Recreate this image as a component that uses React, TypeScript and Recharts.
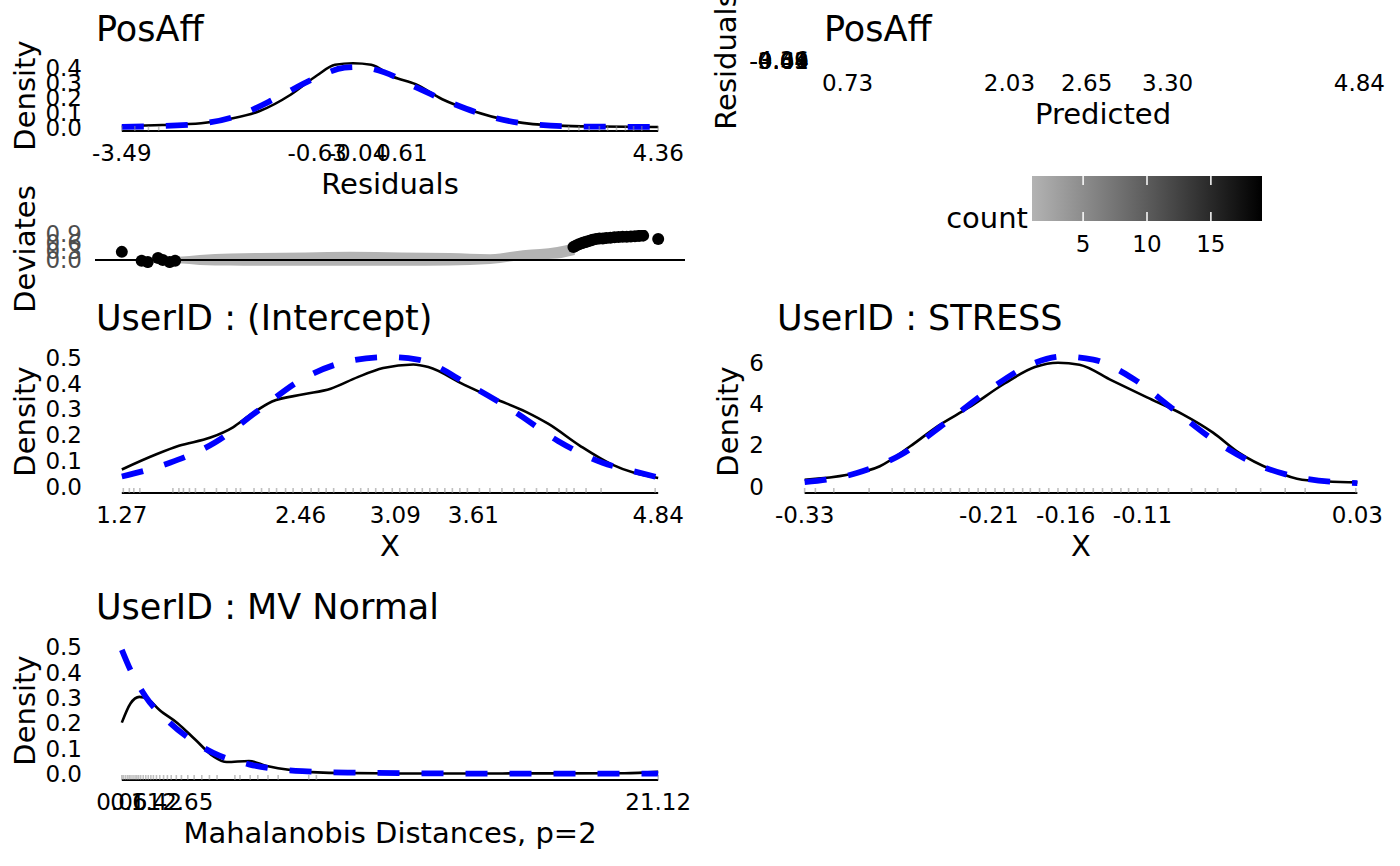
import React from 'react';
import { ComposedChart, Line, Area, Scatter, XAxis, YAxis, ReferenceLine, ReferenceArea } from 'recharts';

const W = 1400;
const H = 866;
const FONT = '"DejaVu Sans", Verdana, sans-serif';

// ---------- tick labels ----------
const resTicks = [-3.49, -0.63, -0.04, 0.61, 4.36];
const predTicks = [0.73, 2.03, 2.65, 3.3, 4.84];
const intTicks = [1.27, 2.46, 3.09, 3.61, 4.84];
const stressTicks = [-0.33, -0.21, -0.16, -0.11, 0.03];
const mvTicks = [0.06, 0.61, 1.42, 2.65, 21.12];
const densTicksA = [0, 0.1, 0.2, 0.3, 0.4];
const devTicks = [0, 0.3, 0.6, 0.9];
const densTicks5 = [0, 0.1, 0.2, 0.3, 0.4, 0.5];
const stressDensTicks = [0, 2, 4, 6];
const countTicks = [5, 10, 15];

// ---------- PosAff residuals density ----------
const resDensX = [-3.49, -2.9, -2.33, -1.9, -1.48, -1.02, -0.63, -0.37, -0.105, 0.16, 0.48, 0.81, 1.2, 1.66, 2.25, 2.9, 3.5, 4.36];
const resDensY = [0.011, 0.018, 0.03, 0.06, 0.11, 0.22, 0.35, 0.42, 0.43, 0.42, 0.34, 0.29, 0.19, 0.11, 0.041, 0.014, 0.008, 0.005];
const resNormX = [-3.49, -2.52, -1.8, -1.22, -0.69, -0.23, -0.04, 0.35, 0.81, 1.27, 1.73, 2.38, 3.23, 4.36];
const resNormY = [0.006, 0.02, 0.08, 0.2, 0.325, 0.4, 0.405, 0.37, 0.27, 0.177, 0.098, 0.03, 0.008, 0.006];
const resRug = [-3.49, -3.3, -3.1, -2.95, 3.05, 3.2, 3.35, 3.5, 3.62, 3.75, 3.88, 4.0, 4.12, 4.36];

// ---------- Deviates ----------
const devBandX = [-2.71, -2.5, -2.35, -1.9, -1.47, -0.8, -0.15, 0.6, 1.31, 1.9, 2.38, 2.88, 3.14];
const devBandLo = [-0.1, -0.14, -0.17, -0.19, -0.2, -0.2, -0.2, -0.2, -0.19, -0.14, 0.0, 0.05, 0.17];
const devBandHi = [0.1, 0.14, 0.17, 0.22, 0.24, 0.26, 0.28, 0.26, 0.24, 0.2, 0.34, 0.45, 0.59];
const devDotX = [-3.49, -3.2, -3.11, -2.96, -2.89, -2.79, -2.71, 3.12, 3.16, 3.2, 3.24, 3.27, 3.3, 3.33, 3.37, 3.4, 3.45, 3.5, 3.55, 3.6, 3.66, 3.72, 3.78, 3.84, 3.9, 3.96, 4.02, 4.08, 4.14, 4.36];
const devDotY = [0.28, -0.03, -0.07, 0.07, 0.0, -0.07, -0.03, 0.45, 0.5, 0.54, 0.58, 0.6, 0.62, 0.65, 0.67, 0.7, 0.72, 0.74, 0.74, 0.76, 0.77, 0.78, 0.79, 0.8, 0.8, 0.81, 0.82, 0.83, 0.84, 0.72];

// ---------- UserID : (Intercept) ----------
const intDensX = [1.27, 1.5, 1.65, 1.86, 2.01, 2.12, 2.27, 2.48, 2.66, 2.84, 3.01, 3.21, 3.31, 3.55, 3.75, 3.96, 4.11, 4.32, 4.53, 4.68, 4.84];
const intDensY = [0.066, 0.125, 0.158, 0.19, 0.23, 0.276, 0.33, 0.358, 0.38, 0.425, 0.46, 0.474, 0.464, 0.395, 0.342, 0.29, 0.243, 0.158, 0.086, 0.053, 0.033];
const intNormX = [1.27, 1.59, 1.89, 2.18, 2.48, 2.78, 3.04, 3.24, 3.58, 3.87, 4.17, 4.47, 4.68, 4.84];
const intNormY = [0.039, 0.092, 0.171, 0.296, 0.42, 0.487, 0.503, 0.493, 0.395, 0.296, 0.178, 0.092, 0.059, 0.035];
const intRug = [1.28, 1.32, 1.35, 1.39, 1.61, 1.65, 1.68, 1.72, 1.76, 1.82, 1.9, 1.97, 2.03, 2.06, 2.15, 2.2, 2.25, 2.3, 2.36, 2.41, 2.47, 2.53, 2.58, 2.63, 2.68, 2.76, 2.81, 2.86, 2.91, 2.96, 3.01, 3.07, 3.12, 3.17, 3.22, 3.27, 3.32, 3.37, 3.42, 3.47, 3.52, 3.57, 3.65, 3.72, 3.8, 3.88, 3.95, 4.03, 4.1, 4.18, 4.23, 4.28, 4.36, 4.46, 4.82];

// ---------- UserID : STRESS ----------
const strDensX = [-0.33, -0.302, -0.281, -0.261, -0.243, -0.223, -0.2, -0.18, -0.165, -0.151, -0.13, -0.107, -0.084, -0.064, -0.047, -0.026, -0.006, 0.03];
const strDensY = [0.33, 0.57, 0.98, 1.96, 2.94, 3.83, 4.98, 5.79, 6.0, 5.9, 5.14, 4.32, 3.51, 2.61, 1.63, 0.82, 0.33, 0.2];
const strNormX = [-0.33, -0.296, -0.267, -0.238, -0.209, -0.183, -0.162, -0.142, -0.116, -0.09, -0.061, -0.035, -0.006, 0.03];
const strNormY = [0.21, 0.65, 1.55, 3.1, 4.73, 5.9, 6.3, 6.15, 5.22, 3.75, 2.12, 1.06, 0.41, 0.16];
const strRug = [-0.33, -0.323, -0.311, -0.288, -0.273, -0.265, -0.258, -0.252, -0.246, -0.241, -0.235, -0.229, -0.223, -0.217, -0.212, -0.206, -0.2, -0.194, -0.188, -0.183, -0.177, -0.171, -0.165, -0.159, -0.153, -0.148, -0.142, -0.136, -0.13, -0.124, -0.119, -0.113, -0.107, -0.1, -0.093, -0.078, -0.069, -0.061, -0.049, -0.033, -0.017, -0.004, 0.029];

// ---------- UserID : MV Normal ----------
const mvDensX = [0.06, 0.4, 0.75, 1.1, 1.54, 2.25, 2.95, 3.65, 4.18, 5.05, 5.75, 6.8, 8.2, 11.0, 15.0, 19.8, 21.12];
const mvDensY = [0.202, 0.278, 0.304, 0.294, 0.252, 0.2, 0.134, 0.069, 0.046, 0.05, 0.03, 0.013, 0.003, 0.001, 0.001, 0.002, 0.007];
const mvNormX = [0.06, 0.4, 1.0, 1.9, 2.6, 3.65, 5.05, 7.15, 9.26, 12.8, 16.0, 21.12];
const mvNormY = [0.49, 0.41, 0.304, 0.206, 0.147, 0.082, 0.037, 0.01, 0.004, 0.001, 0.0, 0.0];
const mvRug = [0.06, 0.12, 0.2, 0.28, 0.35, 0.42, 0.5, 0.58, 0.65, 0.72, 0.8, 0.9, 1.0, 1.1, 1.2, 1.3, 1.42, 1.55, 1.7, 1.85, 2.0, 2.2, 2.4, 2.65, 2.9, 3.2, 3.5, 3.8, 4.5, 4.7, 5.1, 5.4, 5.8, 6.2, 7.4, 7.7, 21.12];

// ---------- helpers ----------
type Frame = { left: number; right: number; top: number; bottom: number };
const toXY = (xs: number[], ys: number[]) => xs.map((x, i) => ({ x, y: ys[i] }));
const rugData = (xs: number[], y0: number) => xs.map((x) => ({ x, y: y0 }));
const fmt2 = (v: number) => v.toFixed(2);
const fmt1 = (v: number) => v.toFixed(1);
const fmt0 = (v: number) => v.toFixed(0);
const expand = (lo: number, hi: number, f = 0.05): [number, number] => [lo - (hi - lo) * f, hi + (hi - lo) * f];

const YW = 70;
const XH = 40;
const tickStyle = { fontSize: 23, fill: '#000', fontFamily: FONT };

const RugTick = (p: any) => (
  <line x1={p.cx} x2={p.cx} y1={p.cy} y2={p.cy - 5} stroke="#8c8c8c" strokeOpacity={0.55} strokeWidth={1.6} />
);
const Dot = (p: any) => <circle cx={p.cx} cy={p.cy} r={6} fill="#000" />;
const Nothing = () => <g />;

function Panel(props: {
  frame: Frame;
  xDomain: [number, number];
  yDomain: [number, number];
  xTicks?: number[];
  yTicks: number[];
  xFmt?: (v: number) => string;
  yFmt: (v: number) => string;
  yColor?: string;
  noXTicks?: boolean;
  data?: any[];
  children?: React.ReactNode;
}) {
  const f = props.frame;
  return (
    <div style={{ position: 'absolute', left: 0, top: 0 }}>
      <ComposedChart
        width={W}
        height={H}
        data={props.data}
        margin={{ left: f.left - YW, right: W - f.right, top: f.top, bottom: H - f.bottom - XH }}
      >
        <XAxis
          type="number"
          dataKey="x"
          domain={props.xDomain}
          ticks={props.noXTicks ? [] : props.xTicks}
          tickFormatter={props.xFmt}
          interval={0}
          axisLine={false}
          tickLine={false}
          tickSize={0}
          tickMargin={14}
          height={XH}
          allowDataOverflow
          tick={props.noXTicks ? false : tickStyle}
        />
        <YAxis
          type="number"
          dataKey="y"
          domain={props.yDomain}
          ticks={props.yTicks}
          tickFormatter={props.yFmt}
          interval={0}
          axisLine={false}
          tickLine={false}
          tickSize={0}
          tickMargin={13}
          width={YW}
          allowDataOverflow
          tick={{ ...tickStyle, fill: props.yColor || '#000' }}
        />
        {props.children}
      </ComposedChart>
    </div>
  );
}

const BLUE = '#0000FF';
const dashProps = { stroke: BLUE, strokeWidth: 5.8, strokeDasharray: '22 22', dot: false, activeDot: false, isAnimationActive: false, type: 'monotone' as const };
const solidProps = { stroke: '#000', strokeWidth: 2.6, dot: false, activeDot: false, isAnimationActive: false, type: 'monotone' as const };

// frames (page pixel coordinates)
const frameA: Frame = { left: 95, right: 685, top: 60, bottom: 131 };
const frameB: Frame = { left: 95, right: 685, top: 230, bottom: 268 };
const frameC: Frame = { left: 822, right: 1385, top: 60, bottom: 61 };
const frameD: Frame = { left: 95, right: 685, top: 350, bottom: 493 };
const frameE: Frame = { left: 777, right: 1385, top: 350, bottom: 493 };
const frameF: Frame = { left: 95, right: 685, top: 641, bottom: 780 };
const frameL: Frame = { left: 1032, right: 1262, top: 176, bottom: 221 };

export default function App() {
  const xA = expand(-3.49, 4.36);
  const yA: [number, number] = [-0.0215, 0.4515];
  const yB: [number, number] = [-0.276, 1.034];
  const xC = expand(0.73, 4.84);
  const xD = expand(1.27, 4.84);
  const yD: [number, number] = [-0.02525, 0.53025];
  const xE = expand(-0.33, 0.03);
  const yE: [number, number] = [-0.315, 6.615];
  const xF = expand(0.06, 21.12);
  const yF: [number, number] = [-0.025, 0.525];

  const bandData = devBandX.map((x, i) => ({ x, lo: devBandLo[i], hi: devBandHi[i] }));

  return (
    <div style={{ position: 'absolute', left: 0, top: 0, width: W, height: H, background: '#fff', overflow: 'hidden', fontFamily: FONT }}>
      {/* A: PosAff residual density */}
      <Panel frame={frameA} xDomain={xA} yDomain={yA} xTicks={resTicks} yTicks={densTicksA} xFmt={fmt2} yFmt={fmt1}>
        <Scatter data={rugData(resRug, yA[0])} shape={RugTick} isAnimationActive={false} />
        <ReferenceLine segment={[{ x: -3.49, y: yA[0] }, { x: 4.36, y: yA[0] }]} stroke="#000" strokeWidth={1.8} />
        <Line data={toXY(resDensX, resDensY)} dataKey="y" {...solidProps} />
        <Line data={toXY(resNormX, resNormY)} dataKey="y" {...dashProps} />
      </Panel>

      {/* B: Deviates */}
      <Panel frame={frameB} xDomain={xA} yDomain={yB} yTicks={devTicks} yFmt={fmt1} yColor="#4D4D4D" noXTicks data={bandData}>
        <Area dataKey={(d: any) => [d.lo, d.hi]} type="monotone" stroke="none" fill="#B3B3B3" fillOpacity={1} isAnimationActive={false} />
        <ReferenceLine y={0} stroke="#000" strokeWidth={2} />
        <Scatter data={toXY(devDotX, devDotY)} shape={Dot} isAnimationActive={false} />
      </Panel>

      {/* C: PosAff residuals vs predicted (collapsed panel) */}
      <Panel frame={frameC} xDomain={xC} yDomain={expand(-3.49, 4.36)} xTicks={predTicks} yTicks={resTicks} xFmt={fmt2} yFmt={fmt2}>
        <Scatter data={toXY(predTicks, resTicks)} shape={Nothing} isAnimationActive={false} />
      </Panel>

      {/* Legend colour bar */}
      <div style={{ position: 'absolute', left: 0, top: 0 }}>
        <ComposedChart
          width={W}
          height={H}
          data={countTicks.map((v) => ({ x: v, y: 0.5 }))}
          margin={{ left: frameL.left, right: W - frameL.right, top: frameL.top, bottom: H - frameL.bottom - XH }}
        >
          <defs>
            <linearGradient id="cntGrad" x1="0" y1="0" x2="1" y2="0">
              <stop offset="0%" stopColor="#B3B3B3" />
              <stop offset="50%" stopColor="#5C5C5C" />
              <stop offset="100%" stopColor="#000000" />
            </linearGradient>
          </defs>
          <XAxis type="number" dataKey="x" domain={[1, 19]} ticks={countTicks} interval={0} axisLine={false} tickLine={false} tickSize={0} tickMargin={15} height={XH} allowDataOverflow tick={tickStyle} />
          <YAxis type="number" dataKey="y" domain={[0, 1]} hide width={0} />
          <ReferenceArea x1={1} x2={19} y1={0} y2={1} fill="url(#cntGrad)" fillOpacity={1} stroke="none" />
          {countTicks.map((v) => (
            <ReferenceLine key={'t' + v} segment={[{ x: v, y: 1 }, { x: v, y: 0.8 }]} stroke="#fff" strokeWidth={1.5} />
          ))}
          {countTicks.map((v) => (
            <ReferenceLine key={'b' + v} segment={[{ x: v, y: 0 }, { x: v, y: 0.2 }]} stroke="#fff" strokeWidth={1.5} />
          ))}
        </ComposedChart>
      </div>

      {/* D: UserID : (Intercept) */}
      <Panel frame={frameD} xDomain={xD} yDomain={yD} xTicks={intTicks} yTicks={densTicks5} xFmt={fmt2} yFmt={fmt1}>
        <Scatter data={rugData(intRug, yD[0])} shape={RugTick} isAnimationActive={false} />
        <ReferenceLine segment={[{ x: 1.27, y: yD[0] }, { x: 4.84, y: yD[0] }]} stroke="#000" strokeWidth={1.8} />
        <Line data={toXY(intDensX, intDensY)} dataKey="y" {...solidProps} />
        <Line data={toXY(intNormX, intNormY)} dataKey="y" {...dashProps} />
      </Panel>

      {/* E: UserID : STRESS */}
      <Panel frame={frameE} xDomain={xE} yDomain={yE} xTicks={stressTicks} yTicks={stressDensTicks} xFmt={fmt2} yFmt={fmt0}>
        <Scatter data={rugData(strRug, yE[0])} shape={RugTick} isAnimationActive={false} />
        <ReferenceLine segment={[{ x: -0.33, y: yE[0] }, { x: 0.03, y: yE[0] }]} stroke="#000" strokeWidth={1.8} />
        <Line data={toXY(strDensX, strDensY)} dataKey="y" {...solidProps} />
        <Line data={toXY(strNormX, strNormY)} dataKey="y" {...dashProps} />
      </Panel>

      {/* F: UserID : MV Normal */}
      <Panel frame={frameF} xDomain={xF} yDomain={yF} xTicks={mvTicks} yTicks={densTicks5} xFmt={fmt2} yFmt={fmt1}>
        <Scatter data={rugData(mvRug, yF[0])} shape={RugTick} isAnimationActive={false} />
        <ReferenceLine segment={[{ x: 0.06, y: yF[0] }, { x: 21.12, y: yF[0] }]} stroke="#000" strokeWidth={1.8} />
        <Line data={toXY(mvDensX, mvDensY)} dataKey="y" {...solidProps} />
        <Line data={toXY(mvNormX, mvNormY)} dataKey="y" {...dashProps} />
      </Panel>

      {/* titles and axis titles */}
      <svg width={W} height={H} style={{ position: 'absolute', left: 0, top: 0, pointerEvents: 'none' }} fontFamily={FONT}>
        <g fontSize={35} fill="#000">
          <text x={96} y={41}>PosAff</text>
          <text x={824} y={41}>PosAff</text>
          <text x={96} y={330}>UserID : (Intercept)</text>
          <text x={777} y={330}>UserID : STRESS</text>
          <text x={96} y={619}>UserID : MV Normal</text>
        </g>
        <g fontSize={29} fill="#000" textAnchor="middle">
          <text x={390} y={194}>Residuals</text>
          <text x={1103} y={124}>Predicted</text>
          <text x={390} y={556}>X</text>
          <text x={1081} y={556}>X</text>
          <text x={390} y={843}>Mahalanobis Distances, p=2</text>
          <text x={35} y={95.5} transform="rotate(-90 35 95.5)">Density</text>
          <text x={35} y={249} transform="rotate(-90 35 249)">Deviates</text>
          <text x={736} y={61} transform="rotate(-90 736 61)">Residuals</text>
          <text x={35} y={421.5} transform="rotate(-90 35 421.5)">Density</text>
          <text x={738} y={421.5} transform="rotate(-90 738 421.5)">Density</text>
          <text x={35} y={710.5} transform="rotate(-90 35 710.5)">Density</text>
        </g>
        <text x={1028} y={228} fontSize={29} textAnchor="end" fill="#000">count</text>
      </svg>
    </div>
  );
}
